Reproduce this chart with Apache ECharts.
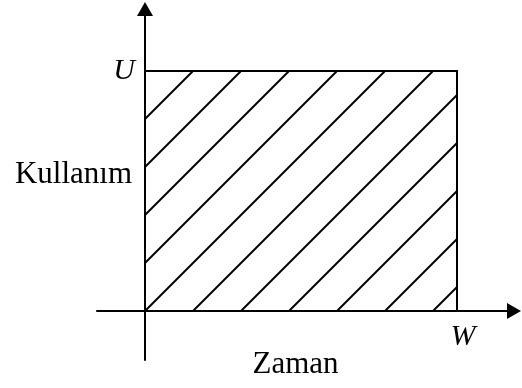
<!DOCTYPE html>
<html>
<head>
<meta charset="utf-8">
<script src="https://cdn.jsdelivr.net/npm/echarts@6/dist/echarts.min.js"></script>
<style>
html,body{margin:0;padding:0;background:#fff;}
#chart{width:522px;height:388px;}
</style>
</head>
<body>
<div id="chart"></div>
<script>
// Conceptual chart: usage U over time W (area hatched)
const usageLimit = [5];          // U, in hatch units
const timeLimit = [6.5];         // W, in hatch units
const yTickLabels = ['U'];
const xTickLabels = ['W'];
const axisNames = ['Zaman', 'Kullanım'];
const hatchOffsets = [-4, -3, -2, -1, 0, 1, 2, 3, 4, 5, 6]; // x - y = c

const U = usageLimit[0], W = timeLimit[0];
const serif = 'Liberation Serif, Times New Roman, serif';

const chart = echarts.init(document.getElementById('chart'), null, {renderer: 'canvas'});

function clipLine(c) {
  // y = x - c inside [0,W]x[0,U]
  let x0 = Math.max(0, c), x1 = Math.min(W, U + c);
  if (x1 <= x0) return null;
  return [[x0, x0 - c], [x1, x1 - c]];
}

chart.setOption({
  animation: false,
  grid: {left: 97, right: 8, top: 9, bottom: 28, containLabel: false, outerBoundsMode: 'none'},
  xAxis: {
    type: 'value', min: -1, max: 7.6875,
    name: axisNames[0], nameLocation: 'middle', nameGap: -11, nameMoveOverlap: false,
    nameTextStyle: {fontFamily: serif, fontSize: 31, color: '#000', padding: [0, 20, 0, 0]},
    axisLine: {onZero: true, lineStyle: {color: '#000', width: 2}, symbol: ['none', 'triangle'], symbolSize: [16, 14]},
    axisTick: {show: false},
    splitLine: {show: false},
    axisLabel: {
      customValues: [W],
      formatter: function () { return xTickLabels[0]; },
      fontFamily: serif, fontSize: 30, fontStyle: 'italic', color: '#000', margin: -38,
      padding: [0, 0, 0, 12]
    }
  },
  yAxis: {
    type: 'value', min: -49 / 48, max: 302 / 48,
    name: axisNames[1], nameLocation: 'middle', nameGap: -35, nameRotate: 0, nameMoveOverlap: false,
    nameTextStyle: {fontFamily: serif, fontSize: 31, color: '#000', verticalAlign: 'bottom', lineHeight: 20},
    axisLine: {onZero: true, lineStyle: {color: '#000', width: 2}, symbol: ['none', 'triangle'], symbolSize: [16, 14]},
    axisTick: {show: false},
    splitLine: {show: false},
    axisLabel: {
      customValues: [U],
      formatter: function () { return yTickLabels[0]; },
      fontFamily: serif, fontSize: 30, fontStyle: 'italic', color: '#000', margin: -38
    }
  },
  series: [{
    type: 'custom',
    clip: false,
    data: [[0, 0]],
    renderItem: function (params, api) {
      const children = [];
      const corners = [[0, 0], [0, U], [W, U], [W, 0]].map(p => api.coord(p));
      children.push({
        type: 'polygon',
        shape: {points: corners},
        style: {fill: 'none', stroke: '#000', lineWidth: 2}
      });
      hatchOffsets.forEach(c => {
        const seg = clipLine(c);
        if (!seg) return;
        const a = api.coord(seg[0]), b = api.coord(seg[1]);
        children.push({
          type: 'line',
          shape: {x1: a[0], y1: a[1], x2: b[0], y2: b[1]},
          style: {stroke: '#000', lineWidth: 2}
        });
      });
      return {type: 'group', children: children};
    }
  }]
});
</script>
</body>
</html>
